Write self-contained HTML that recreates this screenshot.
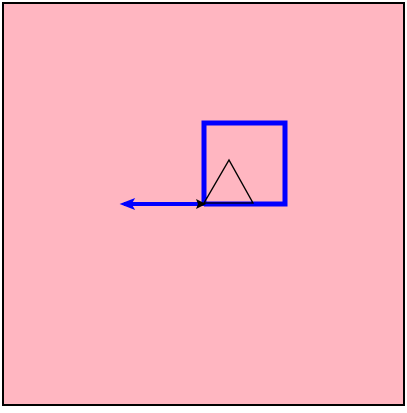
<!DOCTYPE html>
<html><head><style>html,body{margin:0;padding:0;background:#fff}</style></head>
<body>
<svg width="407" height="408" viewBox="0 0 407 408" xmlns="http://www.w3.org/2000/svg">
<rect x="3" y="3" width="401" height="402" fill="#ffb6c1" stroke="#000" stroke-width="2"/>
<polyline points="204,204 204,123 285,123 285,204 204,204" fill="none" stroke="#0000ff" stroke-width="5" stroke-linejoin="miter"/>
<line x1="124" y1="204" x2="204" y2="204" stroke="#0000ff" stroke-width="4"/>
<polygon points="121,204 134,199 131,204 134,209" fill="#0000ff" stroke="#0000ff" stroke-width="1"/>
<polygon points="206,204 196,199 198,204 196,209" fill="#000"/>
<polygon points="204,203 229,160 253,203" fill="none" stroke="#000" stroke-width="1.3"/>
</svg>
</body></html>
